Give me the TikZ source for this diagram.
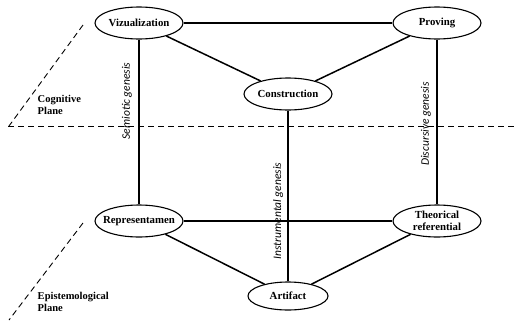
\documentclass[tikz,border=0pt]{standalone}
\usepackage{fontspec}
\setmainfont{Liberation Serif}
\newfontfamily\genfont{Carlito}
\usetikzlibrary{shapes.geometric}

\begin{document}
\begin{tikzpicture}[x=1pt, y=-1pt, line width=1.5pt,
		pole/.style={ellipse, draw, line width=1.1pt, fill=white, minimum width=88pt, minimum height=32pt, inner xsep=-14pt, inner ysep=-5pt, align=center, font=\bfseries\fontsize{10.8}{12}\selectfont},
		genesis/.style={rotate=90, inner sep=0pt, font=\genfont\itshape\fontsize{11.5}{12}\selectfont},
		planename/.style={anchor=north west, inner sep=0pt, align=left, font=\bfseries\fontsize{10.5}{12}\selectfont},
		border/.style={dashed, line width=0.9pt, dash pattern=on 6pt off 4pt}]
		\useasboundingbox (0,0) rectangle (517,322);

		% planes
		\draw[border] (8,126) -- (517,126);
		\draw[border] (83,25) -- (9,126);
		\draw[border] (83,223) -- (9,320);
		\node[planename] (cog) at (37,94) {Cognitive\\Plane};
		\node[planename] (epi) at (37,291) {Epistemological\\Plane};

		% poles
		\node[pole] (viz) at (139,23) {Vizualization};
		\node[pole] (prov) at (437,23) {Proving};
		\node[pole] (cons) at (288,94) {Construction};
		\node[pole] (rep) at (139,221) {Representamen};
		\node[pole] (theo) at (437,221) {Theorical\\referential};
		\node[pole, minimum width=80pt, minimum height=28pt] (art) at (288,296) {Artifact};

		\draw (viz) -- (prov);
		\draw (viz) -- (cons);
		\draw (cons) -- (prov);
		\draw (rep) -- (theo);
		\draw (rep) -- (art);
		\draw (art) -- (theo);
		\draw (viz) -- (rep);
		\draw (cons) -- (art);
		\draw (prov) -- (theo);

		% geneses
		\node[genesis] (sem) at (127,101) {Semiotic genesis};
		\node[genesis] (ins) at (278,211) {Instrumental genesis};
		\node[genesis] (dis) at (426,124) {Discursive genesis};
	\end{tikzpicture}
\end{document}
